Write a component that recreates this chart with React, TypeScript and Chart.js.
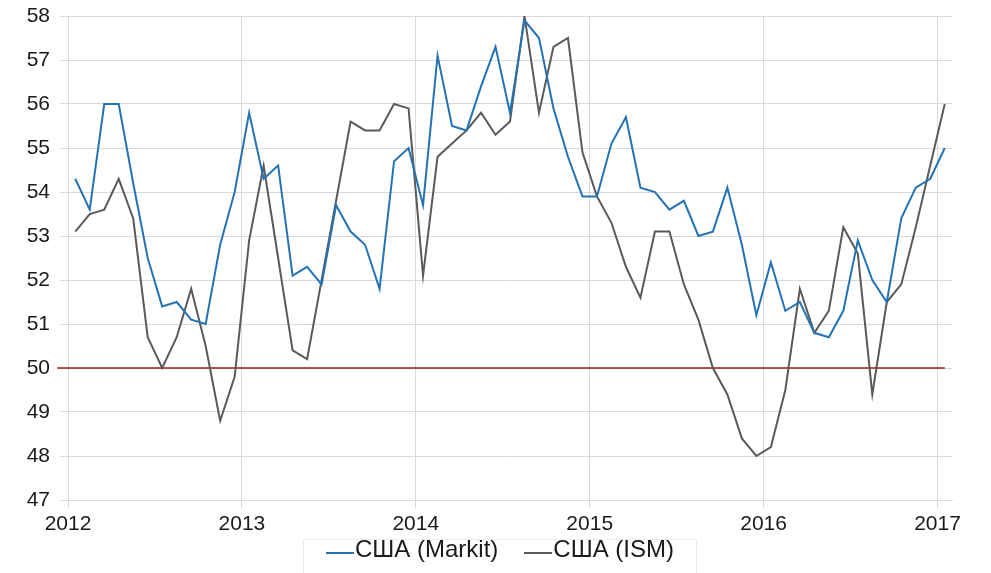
import React, { useEffect, useRef } from "react";
import { Chart, registerables } from "chart.js";

Chart.register(...registerables);

// Monthly values, Jan 2012 .. Jan 2017
const MARKIT: number[] = [
  54.3, 53.6, 56.0, 56.0, 54.2, 52.5, 51.4, 51.5, 51.1, 51.0, 52.8, 54.0,
  55.8, 54.3, 54.6, 52.1, 52.3, 51.9, 53.7, 53.1, 52.8, 51.8, 54.7, 55.0,
  53.7, 57.1, 55.5, 55.4, 56.4, 57.3, 55.8, 57.9, 57.5, 55.9, 54.8, 53.9,
  53.9, 55.1, 55.7, 54.1, 54.0, 53.6, 53.8, 53.0, 53.1, 54.1, 52.8, 51.2,
  52.4, 51.3, 51.5, 50.8, 50.7, 51.3, 52.9, 52.0, 51.5, 53.4, 54.1, 54.3,
  55.0,
];

const ISM: number[] = [
  53.1, 53.5, 53.6, 54.3, 53.4, 50.7, 50.0, 50.7, 51.8, 50.5, 48.8, 49.8,
  52.9, 54.6, 52.5, 50.4, 50.2, 52.0, 53.8, 55.6, 55.4, 55.4, 56.0, 55.9,
  52.1, 54.8, 55.1, 55.4, 55.8, 55.3, 55.6, 58.0, 55.8, 57.3, 57.5, 54.9,
  53.9, 53.3, 52.3, 51.6, 53.1, 53.1, 51.9, 51.1, 50.0, 49.4, 48.4, 48.0,
  48.2, 49.5, 51.8, 50.8, 51.3, 53.2, 52.6, 49.4, 51.5, 51.9, 53.2, 54.6,
  56.0,
];

const YEAR_LABELS: string[] = ["2012", "2013", "2014", "2015", "2016", "2017"];
const YEAR_TICK_MONTHS: number[] = [0, 12, 24, 36, 48, 60];
const THRESHOLD = 50;
const THRESHOLD_RANGE: number[] = [-0.75, 60.5];

const SERIES_NAMES = ["США (Markit)", "США (ISM)"];
const BLUE = "#2474b5";
const GRAY = "#5a5a5a";
const RED = "#9e1a1e";
const GRID = "#d9d9d9";
const FONT_FAMILY = '"Liberation Sans", Arial, sans-serif';

export default function App() {
  const canvasRef = useRef<HTMLCanvasElement | null>(null);

  useEffect(() => {
    if (!canvasRef.current) return;
    const toPoints = (arr: number[]) => arr.map((v, i) => ({ x: i + 0.5, y: v }));
    const chart = new Chart(canvasRef.current, {
      type: "line",
      data: {
        datasets: [
          {
            label: "50",
            data: THRESHOLD_RANGE.map((x) => ({ x, y: THRESHOLD })),
            borderColor: RED,
            borderWidth: 1.6,
            pointRadius: 0,
            clip: false as any,
            order: 3,
          },
          {
            label: SERIES_NAMES[0],
            data: toPoints(MARKIT),
            borderColor: BLUE,
            borderWidth: 2,
            pointRadius: 0,
            tension: 0,
            order: 1,
          },
          {
            label: SERIES_NAMES[1],
            data: toPoints(ISM),
            borderColor: GRAY,
            borderWidth: 2,
            pointRadius: 0,
            tension: 0,
            order: 2,
          },
        ],
      },
      options: {
        animation: false,
        responsive: false,
        maintainAspectRatio: false,
        events: [],
        layout: { padding: { top: 16, right: 39, bottom: 0, left: 0 } },
        plugins: {
          legend: { display: false },
          tooltip: { enabled: false },
        },
        scales: {
          x: {
            type: "linear",
            min: 0,
            max: 61,
            afterBuildTicks: (scale: any) => {
              scale.ticks = YEAR_TICK_MONTHS.map((v) => ({ value: v }));
            },
            afterFit: (scale: any) => {
              scale.height = 73;
              scale.paddingLeft = 0;
              scale.paddingRight = 0;
            },
            ticks: {
              color: "#1a1a1a",
              padding: 4,
              maxRotation: 0,
              autoSkip: false,
              font: { family: FONT_FAMILY, size: 21 },
              callback: (_v: any, idx: number) => YEAR_LABELS[idx],
            },
            grid: { color: GRID, lineWidth: 1, tickLength: 8, drawTicks: true },
            border: { color: GRID, width: 1 },
          },
          y: {
            min: 47,
            max: 58,
            afterFit: (scale: any) => {
              scale.width = 68;
              scale.paddingTop = 0;
              scale.paddingBottom = 0;
            },
            ticks: {
              stepSize: 1,
              color: "#1a1a1a",
              padding: 10,
              font: { family: FONT_FAMILY, size: 21 },
            },
            grid: { color: GRID, lineWidth: 1, tickLength: 8, drawTicks: true },
            border: { color: GRID, width: 1 },
          },
        },
      },
    } as any);
    return () => chart.destroy();
  }, []);

  return (
    <div
      style={{
        position: "fixed",
        left: 0,
        top: 0,
        width: 991,
        height: 573,
        background: "#ffffff",
        overflow: "hidden",
      }}
    >
      <canvas
        ref={canvasRef}
        width={991}
        height={573}
        style={{ position: "absolute", left: 0, top: 0, width: 991, height: 573 }}
      />
      <div
        style={{
          position: "absolute",
          left: 303,
          top: 539,
          width: 394,
          height: 40,
          border: "1px solid #ececec",
          display: "flex",
          alignItems: "flex-start",
          justifyContent: "center",
          gap: 26,
          fontFamily: FONT_FAMILY,
          fontSize: 24,
          color: "#1a1a1a",
          boxSizing: "border-box",
        }}
      >
        {SERIES_NAMES.map((name, i) => (
          <div key={name} style={{ display: "flex", alignItems: "flex-start", marginTop: -4 }}>
            <span
              style={{
                display: "inline-block",
                width: 28,
                height: 2,
                background: i === 0 ? BLUE : GRAY,
                marginTop: 16,
                marginRight: 1,
              }}
            />
            <span style={{ whiteSpace: "nowrap", lineHeight: "26px" }}>{name}</span>
          </div>
        ))}
      </div>
    </div>
  );
}
